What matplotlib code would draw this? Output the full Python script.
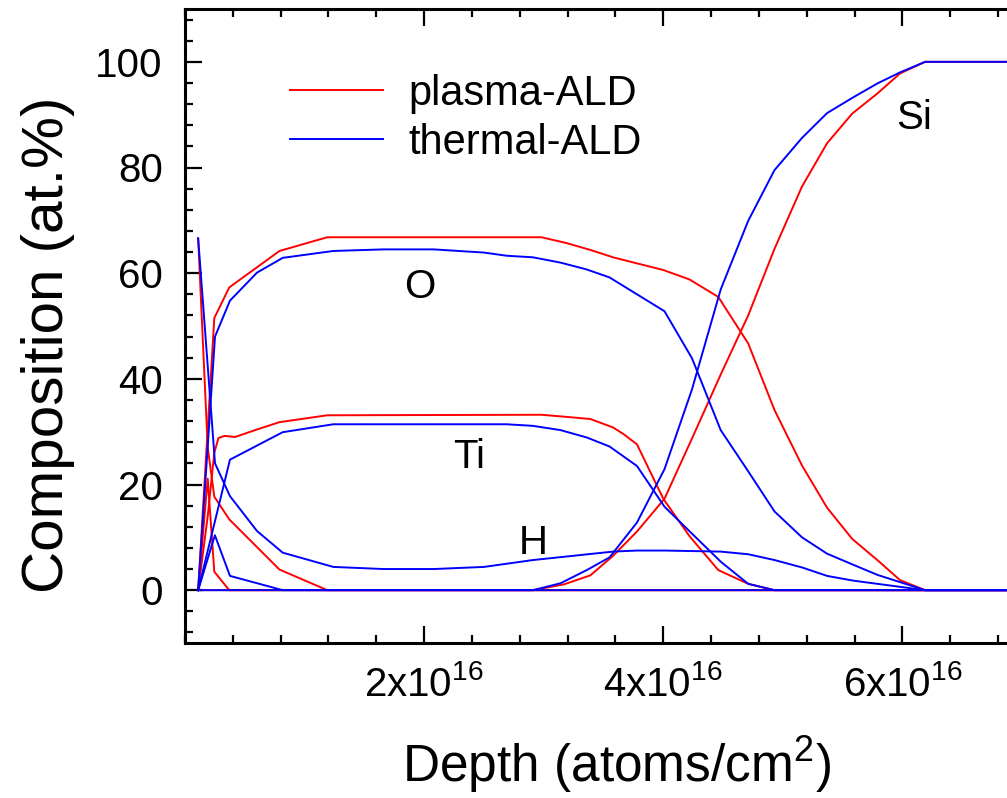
import matplotlib
matplotlib.use("Agg")
import matplotlib.pyplot as plt
from matplotlib.ticker import FixedLocator, MultipleLocator

plt.rcParams["font.family"] = ["Liberation Sans", "DejaVu Sans"]
plt.rcParams["mathtext.fontset"] = "custom"
plt.rcParams["mathtext.rm"] = "Liberation Sans"
plt.rcParams["mathtext.it"] = "Liberation Sans:italic"
plt.rcParams["mathtext.bf"] = "Liberation Sans:bold"

E16 = 1e16

# ---- plasma-ALD profiles (depth in 1e16 atoms/cm^2, composition in at.%) ----
pl_O_depth = [0.11, 0.245, 0.37, 0.79, 1.19, 2.98, 3.19, 3.39, 3.58, 4.00, 4.22, 4.46,
              4.71, 4.93, 5.16, 5.37, 5.58, 5.79, 5.98, 6.19, 7.2]
pl_O = [0, 51.5, 57.3, 64.2, 66.8, 66.8, 65.7, 64.4, 63.0, 60.6, 58.8, 55.5,
        46.7, 34.1, 23.6, 15.6, 9.7, 5.7, 1.9, 0, 0]

pl_Ti_depth = [0.11, 0.19, 0.245, 0.28, 0.33, 0.42, 0.60, 0.79, 1.19, 2.98, 3.19, 3.39,
               3.58, 3.67, 3.78, 4.00, 4.22, 4.46, 4.71, 4.93, 7.2]
pl_Ti = [0, 14.0, 26.0, 28.8, 29.2, 29.0, 30.4, 31.8, 33.1, 33.2, 32.8, 32.4,
         30.8, 29.5, 27.6, 17.3, 10.2, 3.8, 1.2, 0, 0]

pl_H_depth = [0.11, 0.19, 0.245, 0.37, 0.79, 1.19, 7.2]
pl_H = [66.6, 27.0, 17.7, 13.4, 3.9, 0, 0]

pl_C_depth = [0.11, 0.19, 0.245, 0.37, 7.2]
pl_C = [0, 21.1, 3.5, 0, 0]

pl_Si_depth = [0.11, 2.91, 3.17, 3.39, 3.58, 3.78, 4.01, 4.24, 4.48, 4.71, 4.93, 5.16,
               5.37, 5.58, 5.79, 5.98, 6.19, 7.2]
pl_Si = [0, 0, 1.1, 2.8, 6.5, 11.1, 17.3, 28.7, 40.8, 52.0, 64.6, 76.4,
         84.6, 90.2, 94.0, 97.8, 100, 100]

# ---- thermal-ALD profiles ----
th_O_depth = [0.11, 0.251, 0.376, 0.602, 0.817, 1.24, 1.66, 2.08, 2.50, 2.69, 2.91, 3.14,
              3.36, 3.55, 4.01, 4.24, 4.48, 4.71, 4.93, 5.16, 5.37, 5.59, 5.79, 6.19, 7.2]
th_O = [0, 48.0, 54.8, 60.1, 62.9, 64.2, 64.5, 64.5, 63.9, 63.3, 63.0, 62.0,
        60.7, 59.2, 52.8, 43.9, 30.3, 22.5, 14.9, 10.0, 6.9, 4.8, 2.9, 0, 0]

th_Ti_depth = [0.11, 0.376, 0.817, 1.24, 2.69, 2.91, 3.14, 3.36, 3.55, 3.78, 4.01, 4.24,
               4.48, 4.71, 4.93, 7.2]
th_Ti = [0, 24.7, 29.9, 31.4, 31.4, 31.1, 30.3, 28.9, 27.2, 23.5, 15.8, 10.7,
         5.4, 1.2, 0, 0]

th_H_depth = [0.11, 0.251, 0.376, 0.602, 0.817, 1.24, 1.66, 2.08, 2.50, 2.91, 3.58, 3.78,
              4.01, 4.48, 4.71, 4.93, 5.16, 5.37, 5.59, 5.79, 6.19, 7.2]
th_H = [66.6, 24.0, 17.8, 11.2, 7.1, 4.4, 4.0, 4.0, 4.4, 5.7, 7.3, 7.5,
        7.5, 7.3, 6.8, 5.7, 4.3, 2.7, 1.8, 1.2, 0, 0]

th_C_depth = [0.11, 0.25, 0.376, 0.817, 7.2]
th_C = [0, 10.4, 2.7, 0, 0]

th_Si_depth = [0.11, 2.91, 3.14, 3.36, 3.55, 3.78, 4.01, 4.24, 4.48, 4.71, 4.93, 5.16,
               5.37, 5.59, 5.79, 5.98, 6.19, 7.2]
th_Si = [0, 0, 1.3, 3.8, 6.2, 12.8, 22.9, 38.0, 56.9, 69.9, 79.5, 85.6,
         90.3, 93.3, 95.9, 98.0, 100, 100]

x_ticks = [2, 4, 6]
x_tick_labels = [r"2x10$^{16}$", r"4x10$^{16}$", r"6x10$^{16}$"]
y_ticks = [0, 20, 40, 60, 80, 100]

element_labels = {"O": (1.96, 57.4), "Ti": (2.38, 25.2), "H": (2.91, 8.9), "Si": (6.10, 89.4)}

W, H = 1007, 798
fig = plt.figure(figsize=(W / 100, H / 100), dpi=100)
left, right, top, bottom = 185, 1022, 9, 643
ax = fig.add_axes([left / W, 1 - bottom / H, (right - left) / W, (bottom - top) / H])

lw = 1.4
plasma = [(pl_O_depth, pl_O), (pl_Ti_depth, pl_Ti), (pl_H_depth, pl_H),
          (pl_C_depth, pl_C), (pl_Si_depth, pl_Si)]
thermal = [(th_O_depth, th_O), (th_Ti_depth, th_Ti), (th_H_depth, th_H),
           (th_C_depth, th_C), (th_Si_depth, th_Si)]
for i, (d, v) in enumerate(plasma):
    ax.plot([x * E16 for x in d], v, color="#ff0000", lw=lw,
            label="plasma-ALD" if i == 0 else None)
for i, (d, v) in enumerate(thermal):
    ax.plot([x * E16 for x in d], v, color="#0000ff", lw=lw,
            label="thermal-ALD" if i == 0 else None)

for name, (x, y) in element_labels.items():
    ax.text(x * E16, y, name, fontsize=29, ha="center", va="center")

ax.set_xlim(0, 7.0 * E16)
ax.set_ylim(-10, 110)

ax.xaxis.set_major_locator(FixedLocator([t * E16 for t in x_ticks]))
ax.set_xticklabels(x_tick_labels)
ax.xaxis.set_minor_locator(MultipleLocator(0.4 * E16))
ax.yaxis.set_major_locator(FixedLocator(y_ticks))
ax.yaxis.set_minor_locator(MultipleLocator(4))

for s in ax.spines.values():
    s.set_linewidth(2.2)
ax.spines["right"].set_visible(False)
ax.tick_params(which="both", direction="in", top=True, right=False, width=1.6,
               labelsize=29)
ax.tick_params(which="major", length=12)
ax.tick_params(which="minor", length=6)
ax.tick_params(axis="y", pad=16)
ax.tick_params(axis="x", pad=16)

ax.set_xlabel(r"Depth (atoms/cm$^2$)", fontsize=37, labelpad=22)
ax.xaxis.label.set_x(0.516)
ax.set_ylabel("Composition (at.%)", fontsize=42)
ax.yaxis.set_label_coords(-0.131, 0.47)

ax.legend(loc="upper left", bbox_to_anchor=(0.125, 0.898), frameon=False,
          fontsize=30, handlelength=2.25, handletextpad=0.6, labelspacing=0.22,
          borderpad=0, borderaxespad=0)

fig.savefig("out.png", dpi=100)
